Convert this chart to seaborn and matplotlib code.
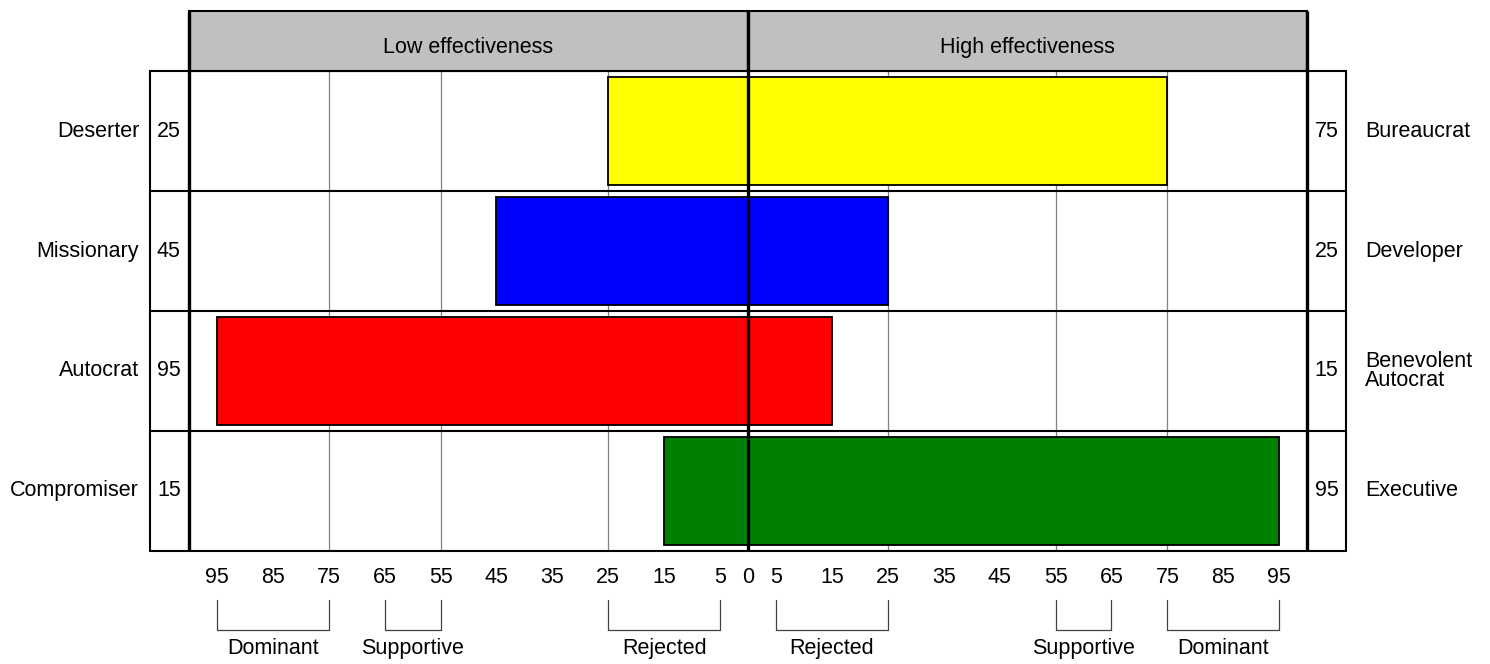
import matplotlib
matplotlib.use("Agg")
import matplotlib.pyplot as plt
import seaborn as sns
import pandas as pd

left_styles = ["Deserter", "Missionary", "Autocrat", "Compromiser"]
right_styles = ["Bureaucrat", "Developer", "Benevolent\nAutocrat", "Executive"]
low_scores = [25, 45, 95, 15]
high_scores = [75, 25, 15, 95]
bar_colors = ["#FFFF00", "#0000FF", "#FF0000", "#008000"]

header_labels = ["Low effectiveness", "High effectiveness"]
grid_values = [-75, -55, -25, 25, 55, 75]
tick_values = [-95, -85, -75, -65, -55, -45, -35, -25, -15, -5, 0,
               5, 15, 25, 35, 45, 55, 65, 75, 85, 95]
bracket_names = ["Dominant", "Supportive", "Rejected", "Rejected", "Supportive", "Dominant"]
bracket_from = [-95, -65, -25, 5, 55, 75]
bracket_to = [-75, -55, -5, 25, 65, 95]

sns.set_style("white")
plt.rcParams["font.family"] = ["Liberation Sans", "DejaVu Sans"]
plt.rcParams["text.color"] = "black"
FS = 15.5

df = pd.DataFrame({
    "style": left_styles,
    "low": [-v for v in low_scores],
    "high": high_scores,
})

fig = plt.figure(figsize=(14.9, 6.64), dpi=100)
ax = fig.add_axes([0, 0, 1, 1])

for col in ["low", "high"]:
    sns.barplot(data=df, y="style", x=col, hue="style", palette=bar_colors,
                orient="h", width=0.9, edgecolor="black", linewidth=1.3,
                saturation=1, legend=False, ax=ax, zorder=3)

ax.set_xlim(-133.8, 132.7)
ax.set_ylim(4.442, -1.092)
ax.axis("off")

# header boxes
for (x0, x1), txt in zip([(-100, 0), (0, 100)], header_labels):
    ax.add_patch(plt.Rectangle((x0, -1.0), x1 - x0, 0.5, facecolor="#C0C0C0",
                               edgecolor="black", linewidth=1.5, zorder=2))
    ax.text((x0 + x1) / 2, -0.70, txt, ha="center", va="center", fontsize=FS)

# grid lines
for g in grid_values:
    ax.plot([g, g], [-0.5, 3.5], color="#808080", lw=0.9, zorder=1)

# row separators and outer box
for r in range(5):
    ax.plot([-107, 107], [r - 0.5, r - 0.5], color="black", lw=1.5, zorder=4)
for xv in [-107, 107]:
    ax.plot([xv, xv], [-0.5, 3.5], color="black", lw=1.5, zorder=4)
for xv in [-100, 0, 100]:
    ax.plot([xv, xv], [-1.0, 3.5], color="black", lw=2.4, zorder=5,
            solid_capstyle="butt")

# row labels
for i in range(len(left_styles)):
    ax.text(-108.9, i, left_styles[i], ha="right", va="center", fontsize=FS)
    ax.text(-103.6, i, str(low_scores[i]), ha="center", va="center", fontsize=FS)
    ax.text(103.5, i, str(high_scores[i]), ha="center", va="center", fontsize=FS)
    ax.text(110.4, i, right_styles[i], ha="left", va="center", fontsize=FS,
            linespacing=0.9)

# bottom tick labels
for t in tick_values:
    ax.text(t, 3.72, str(abs(t)), ha="center", va="center", fontsize=FS)

# brackets
for name, a, b in zip(bracket_names, bracket_from, bracket_to):
    ax.plot([a, a, b, b], [3.91, 4.16, 4.16, 3.91], color="#404040", lw=0.9)
    ax.text((a + b) / 2, 4.31, name, ha="center", va="center", fontsize=FS)

fig.savefig("out.png", dpi=100)
